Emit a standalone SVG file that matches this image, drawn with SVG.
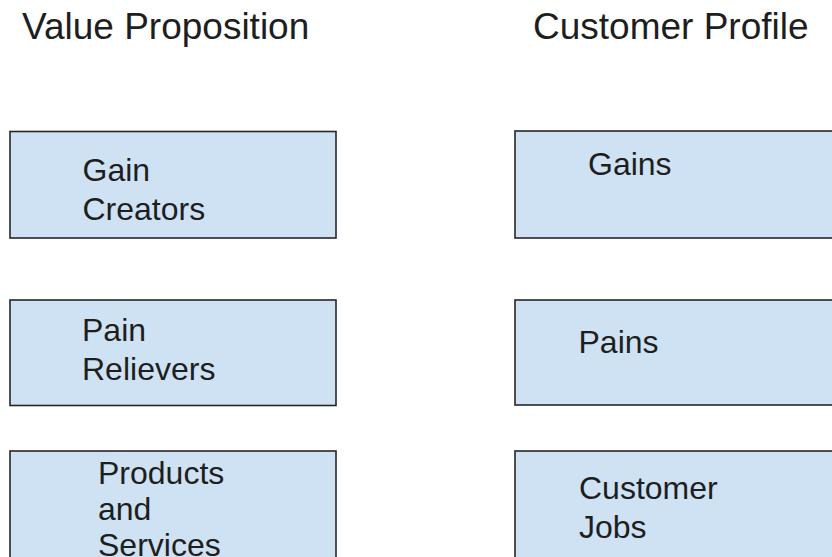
<svg xmlns="http://www.w3.org/2000/svg" width="832" height="557" viewBox="0 0 832 557">
  <style>
    .box { fill: #cfe2f3; stroke: #262626; stroke-width: 1.6; }
    .title { font-family: "Liberation Sans", Arial, sans-serif; font-size: 37px; fill: #1e1e1e; }
    .label { font-family: "Liberation Sans", Arial, sans-serif; font-size: 32px; fill: #1e1e1e; }
  </style>
  <rect width="832" height="557" fill="#ffffff"/>

  <!-- column headings -->
  <text class="title" x="22" y="39">Value Proposition</text>
  <text class="title" x="533" y="39">Customer Profile</text>

  <!-- value proposition column -->
  <g id="gain-creators">
    <rect class="box" x="10" y="131.5" width="326" height="106.5"/>
    <text class="label" x="82.5" y="181">Gain</text>
    <text class="label" x="82.5" y="219.5">Creators</text>
  </g>
  <g id="pain-relievers">
    <rect class="box" x="10" y="300" width="326" height="105.5"/>
    <text class="label" x="82" y="341">Pain</text>
    <text class="label" x="82" y="379.5">Relievers</text>
  </g>
  <g id="products-services">
    <rect class="box" x="10" y="451" width="326" height="120"/>
    <text class="label" x="98" y="483.5">Products</text>
    <text class="label" x="98" y="519.5">and</text>
    <text class="label" x="98" y="556">Services</text>
  </g>

  <!-- customer profile column -->
  <g id="gains">
    <rect class="box" x="515" y="131" width="330" height="107"/>
    <text class="label" x="588" y="175">Gains</text>
  </g>
  <g id="pains">
    <rect class="box" x="515" y="300" width="330" height="105"/>
    <text class="label" x="578.5" y="353">Pains</text>
  </g>
  <g id="customer-jobs">
    <rect class="box" x="515" y="451" width="330" height="120"/>
    <text class="label" x="579" y="499">Customer</text>
    <text class="label" x="579" y="538">Jobs</text>
  </g>

  <g id="connectors"></g>
</svg>
